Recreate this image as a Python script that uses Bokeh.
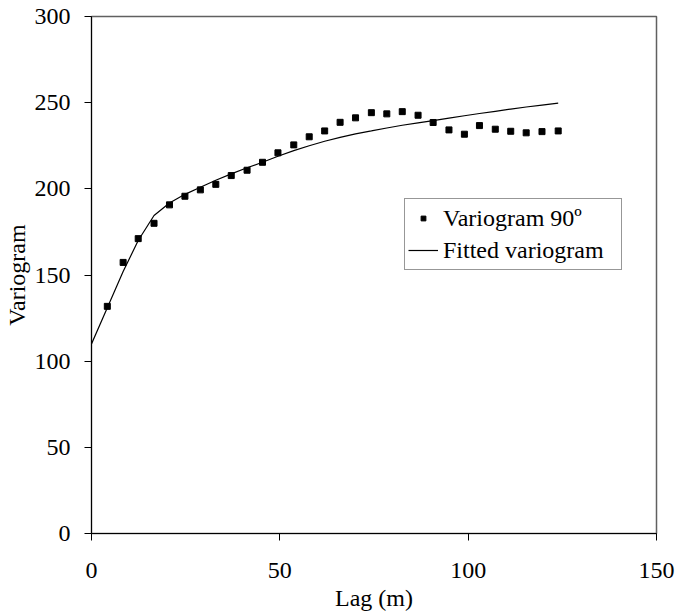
from bokeh.plotting import figure
from bokeh.models import Range1d, FixedTicker, Legend, LegendItem
from bokeh.embed import file_html
from bokeh.resources import INLINE

# Experimental variogram (90 degrees)
lag = [4.2, 8.4, 12.4, 16.6, 20.7, 24.8, 28.9, 33.0, 37.1, 41.3,
       45.4, 49.5, 53.7, 57.8, 61.9, 66.0, 70.1, 74.3, 78.4, 82.5,
       86.7, 90.7, 94.9, 99.0, 103.0, 107.2, 111.3, 115.4, 119.6, 123.9]
gamma = [131.8, 157.3, 171.1, 180.0, 190.7, 195.7, 199.4, 202.6, 207.7, 210.8,
         215.4, 220.9, 225.5, 230.2, 233.6, 238.6, 241.2, 244.2, 243.5, 244.8,
         242.7, 238.5, 234.2, 231.7, 236.7, 234.6, 233.4, 232.5, 233.2, 233.6]

# Fitted variogram model
fit_lag = [0.0, 4.2, 8.4, 12.4, 16.6, 20.7, 24.8, 28.9, 33.0, 37.1, 41.3,
           45.4, 49.5, 53.7, 57.8, 61.9, 66.0, 70.1, 74.3, 78.4, 82.5,
           86.7, 90.7, 94.9, 99.0, 103.0, 107.2, 111.3, 115.4, 119.6, 123.9]
fit_gamma = [110.0, 131.0, 152.0, 170.0, 184.5, 191.8, 196.8, 200.9, 205.0, 208.7, 212.2,
             215.4, 218.9, 222.2, 225.0, 227.6, 229.9, 231.9, 233.6, 235.3, 236.9,
             238.3, 239.6, 241.0, 242.4, 243.7, 245.0, 246.3, 247.5, 248.6, 249.7]

x_ticks = [0, 50, 100, 150]
y_ticks = [0, 50, 100, 150, 200, 250, 300]

FONT = "Liberation Serif"

p = figure(width=676, height=616, output_backend="svg", toolbar_location=None,
           x_range=Range1d(0, 150), y_range=Range1d(0, 300),
           min_border_left=87, min_border_right=20, min_border_top=16, min_border_bottom=83)

p.background_fill_color = "white"
p.border_fill_color = "white"
p.outline_line_color = "#606060"
p.outline_line_width = 1.5
p.xgrid.visible = False
p.ygrid.visible = False

line_r = p.line(fit_lag, fit_gamma, line_color="black", line_width=1.2)
pts_r = p.scatter(lag, gamma, marker="square", size=6, fill_color="black", line_color="black")

for ax, ticks in ((p.xaxis[0], x_ticks), (p.yaxis[0], y_ticks)):
    ax.ticker = FixedTicker(ticks=ticks)
    ax.minor_tick_line_color = None
    ax.major_tick_in = 0
    ax.major_tick_out = 7
    ax.axis_line_color = "black"
    ax.major_tick_line_color = "black"
    ax.major_label_text_font = FONT
    ax.major_label_text_font_size = "24px"
    ax.major_label_text_color = "black"
    ax.axis_label_text_font = FONT
    ax.axis_label_text_font_size = "24px"
    ax.axis_label_text_font_style = "normal"
    ax.axis_label_text_color = "black"

p.xaxis.axis_label = "Lag (m)"
p.yaxis.axis_label = "Variogram"
p.xaxis.major_label_standoff = 22
p.yaxis.major_label_standoff = 14
p.xaxis.axis_label_standoff = 4
p.yaxis.axis_label_standoff = 2

legend = Legend(items=[LegendItem(label="Variogram 90º", renderers=[pts_r]),
                       LegendItem(label="Fitted variogram", renderers=[line_r])],
                location=(313, 263))
legend.label_text_font = FONT
legend.label_text_font_size = "24px"
legend.label_text_color = "black"
legend.border_line_color = "#303030"
legend.border_line_width = 1
legend.background_fill_color = "white"
legend.background_fill_alpha = 1
legend.glyph_width = 30
legend.glyph_height = 12
legend.label_height = 32
legend.label_width = 175
legend.label_standoff = 5
legend.padding = 3
legend.spacing = 0
legend.margin = 0
p.add_layout(legend)

open("out.html", "w").write(file_html(p, INLINE))
